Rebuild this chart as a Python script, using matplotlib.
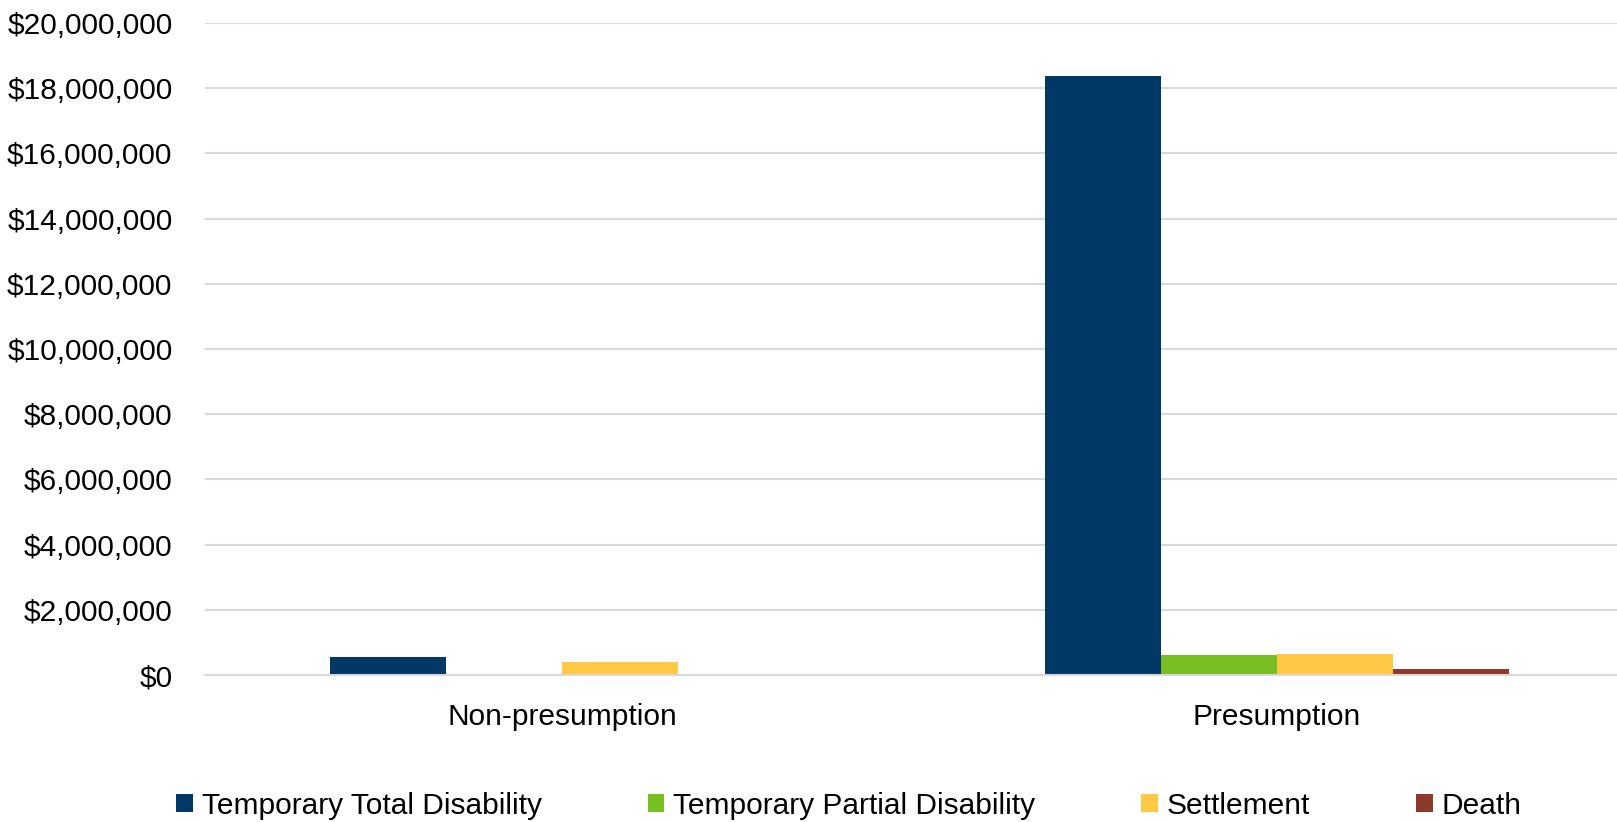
import matplotlib
matplotlib.use("Agg")
import matplotlib.pyplot as plt
import numpy as np
from matplotlib.ticker import FuncFormatter, MultipleLocator

categories = ["Non-presumption", "Presumption"]
series_names = ["Temporary Total Disability", "Temporary Partial Disability", "Settlement", "Death"]
ttd = [540000, 18370000]
tpd = [8000, 620000]
settlement = [390000, 650000]
death = [15000, 175000]
colors = ["#023865", "#78BE21", "#FFC845", "#8B3A2B"]

plt.rcParams['font.family'] = ['Liberation Sans', 'DejaVu Sans']

W, H = 1617, 822
fig = plt.figure(figsize=(W / 100, H / 100), dpi=100)
left_px, right_px, top_px, bottom_px = 204.5, 1617, 23, 675
ax = fig.add_axes([left_px / W, 1 - bottom_px / H, (right_px - left_px) / W, (bottom_px - top_px) / H])

x = np.arange(len(categories))
bw = 116 / 715
series = [ttd, tpd, settlement, death]
for i, (vals, name, c) in enumerate(zip(series, series_names, colors)):
    ax.bar(x + (i - 1.5) * bw, vals, width=bw, color=c, label=name, zorder=3)

ax.set_ylim(0, 20000000)
ax.set_xlim(-0.5, -0.5 + (right_px - left_px) / 715)
ax.yaxis.set_major_locator(MultipleLocator(2000000))
ax.yaxis.set_major_formatter(FuncFormatter(lambda v, p: "${:,.0f}".format(v)))
ax.grid(axis='y', color='#d9d9d9', linewidth=1.5, zorder=0)
for s in ['top', 'right', 'left']:
    ax.spines[s].set_visible(False)
ax.spines['bottom'].set_color('#d9d9d9')
ax.spines['bottom'].set_linewidth(1.5)
ax.spines['bottom'].set_zorder(4)
ax.set_xticks(x)
ax.set_xticklabels(categories)
ax.tick_params(axis='y', length=0, pad=23, labelsize=21.5, labelcolor='#000000')
ax.tick_params(axis='x', length=0, pad=20, labelsize=21.5, labelcolor='#000000')

leg = fig.legend(loc='center', bbox_to_anchor=(849 / W, 1 - 806 / H), ncol=4, frameon=False,
                 fontsize=21.5, handlelength=0.55, handleheight=0.55, handletextpad=0.3,
                 columnspacing=3.55, borderaxespad=0, borderpad=0)

fig.savefig("out.png", dpi=100)
